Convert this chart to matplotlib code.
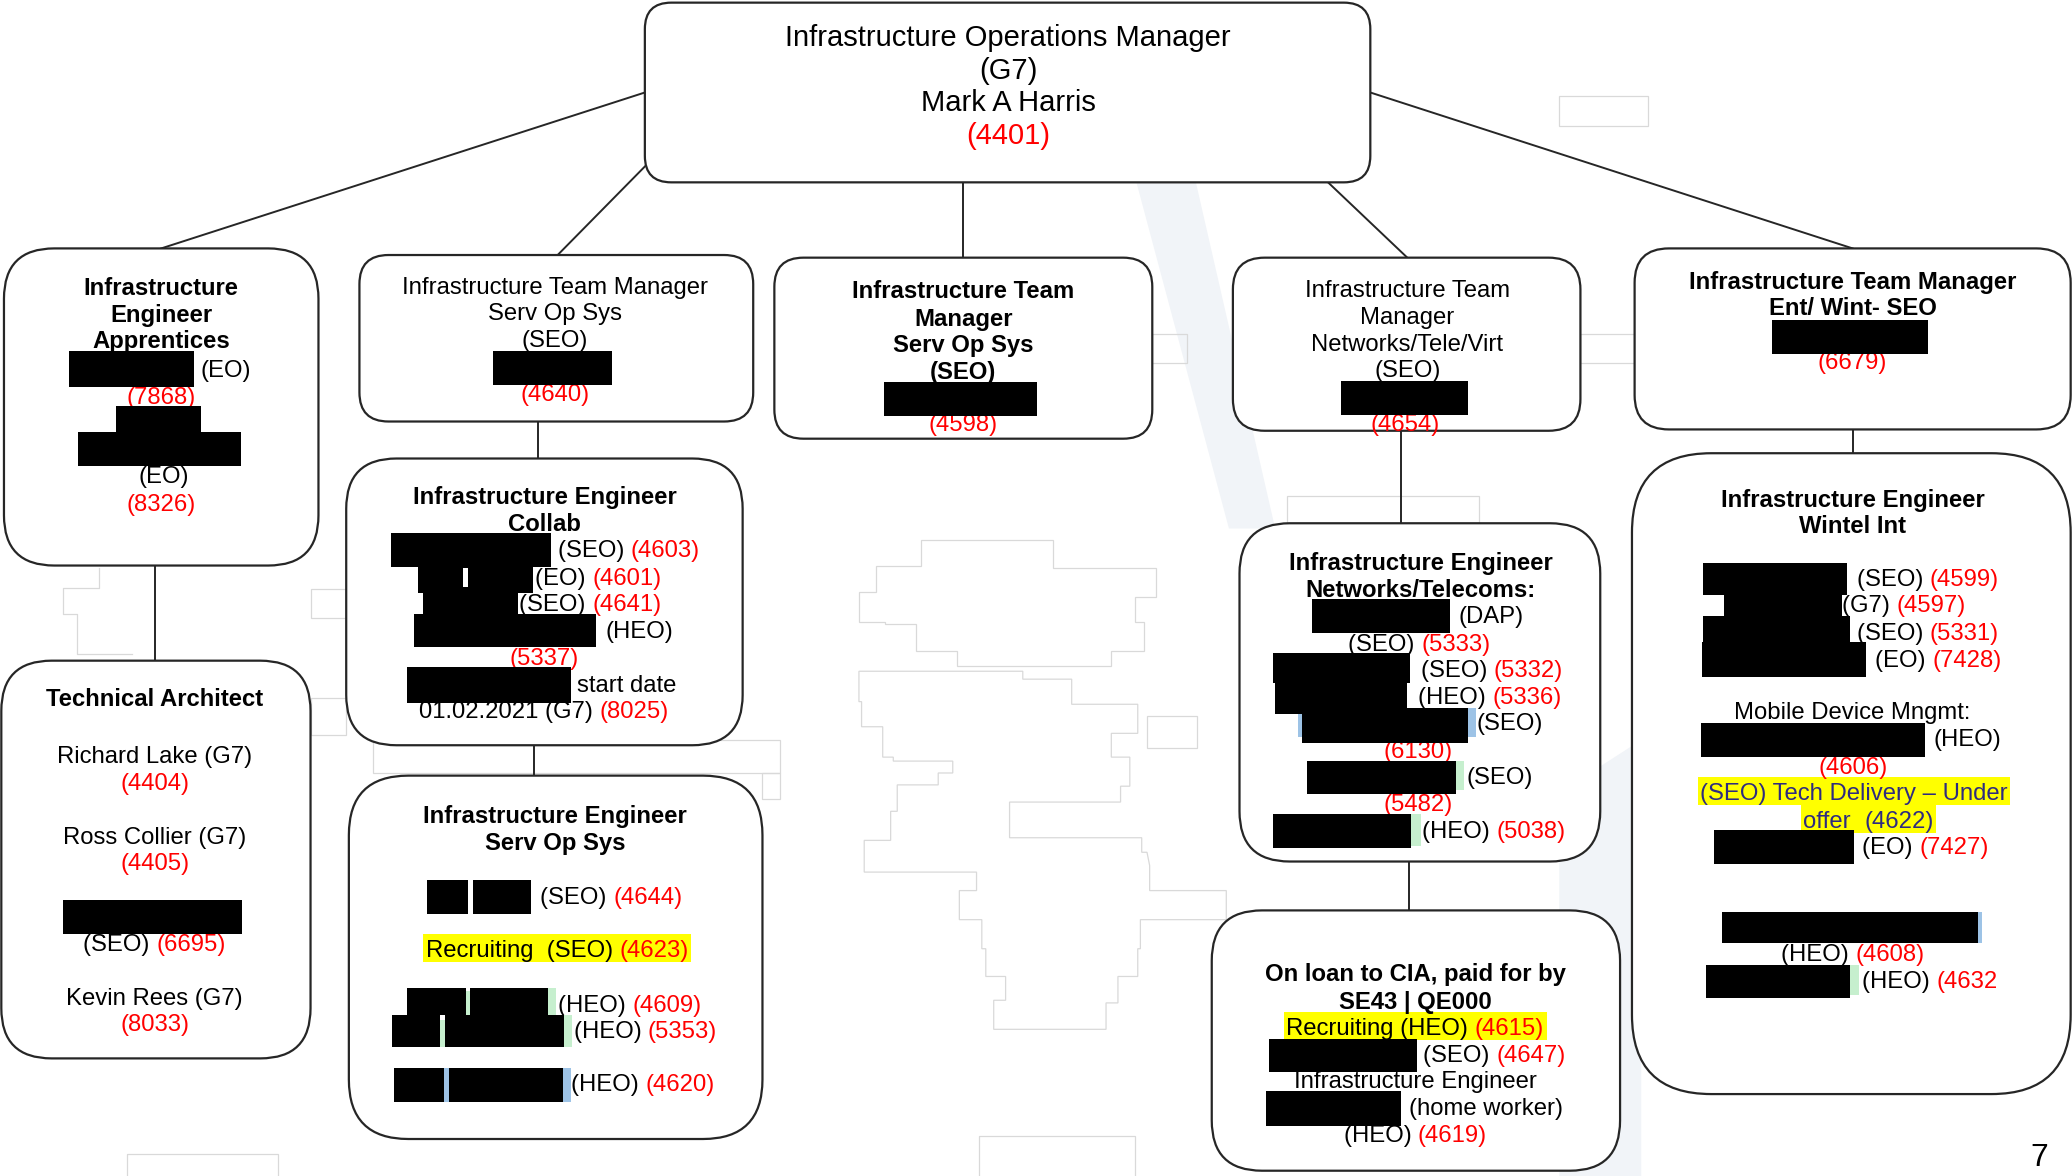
import re

import matplotlib
matplotlib.use("Agg")
import matplotlib.pyplot as plt
from matplotlib.patches import FancyBboxPatch, Rectangle, Polygon

# working units are the pixels of the 1568x890 preview of the org chart
W, H = 1568, 890
PT = 2072 / 1568 * 0.72          # points per working unit at dpi 100
FONT = "Liberation Sans"
BODY = 17.2
BIG = 21
RED = "#ff0000"
NAVY = "#2e2b80"
EDGE = "#262626"
GHOST = "#d9d9d9"
POST = re.compile(r"(\(\d{4}\)?)")

# ---- box texts ----------------------------------------------------------
TOP_ROWS = ["Infrastructure Operations Manager", "(G7)", "Mark A Harris", "(4401)"]
APPRENTICE_ROWS = ["Infrastructure", "Engineer", "Apprentices", "(EO)", "(7868)", "(EO)", "(8326)"]
SOS_MANAGER_ROWS = ["Infrastructure Team Manager", "Serv Op Sys", "(SEO)", "(4640)"]
SOS_LEAD_ROWS = ["Infrastructure Team", "Manager", "Serv Op Sys", "(SEO)", "(4598)"]
NET_MANAGER_ROWS = ["Infrastructure Team", "Manager", "Networks/Tele/Virt", "(SEO)", "(4654)"]
ENT_MANAGER_ROWS = ["Infrastructure Team Manager", "Ent/ Wint- SEO", "(6679)"]
COLLAB_ROWS = ["Infrastructure Engineer", "Collab", "(SEO) (4603)", "(EO) (4601)", "(SEO) (4641)",
               "(HEO)", "(5337)", "start date", "01.02.2021 (G7) (8025)"]
ARCHITECT_ROWS = ["Technical Architect", "Richard Lake (G7)", "(4404)", "Ross Collier (G7)", "(4405)",
                  "(SEO) (6695)", "Kevin Rees (G7)", "(8033)"]
SOS_ENGINEER_ROWS = ["Infrastructure Engineer", "Serv Op Sys", "(SEO) (4644)", "Recruiting  (SEO) (4623)",
                     "(HEO) (4609)", "(HEO) (5353)", "(HEO) (4620)"]
NET_ENGINEER_ROWS = ["Infrastructure Engineer", "Networks/Telecoms:", "(DAP)", "(SEO) (5333)", "(SEO) (5332)",
                     "(HEO) (5336)", "(SEO)", "(6130)", "(SEO)", "(5482)", "(HEO) (5038)"]
CIA_ROWS = ["On loan to CIA, paid for by", "SE43 | QE000", "Recruiting (HEO) (4615)", "(SEO) (4647)",
            "Infrastructure Engineer", "(home worker)", "(HEO) (4619)"]
WINTEL_ROWS = ["Infrastructure Engineer", "Wintel Int", "(SEO) (4599)", "(G7) (4597)", "(SEO) (5331)",
               "(EO) (7428)", "Mobile Device Mngmt:", "(HEO)", "(4606)", "(SEO) Tech Delivery \u2013 Under",
               "offer  (4622)", "(EO) (7427)", "(HEO) (4608)", "(HEO) (4632"]
PAGE_NUMBER = "7"

# ---- layout -------------------------------------------------------------
BOXES = [
    dict(rows=TOP_ROWS, rect=(488, 2, 1037, 138), r=20, size=BIG, bold=0,
         pos=[(27, "c", 763), (52, "c", 763), (76, "c", 763), (101, "c", 763)]),
    dict(rows=APPRENTICE_ROWS, rect=(3, 188, 241, 428), r=38, size=BODY, bold=3,
         pos=[(217, "c", 122), (237, "c", 122), (257, "c", 122), (279, "l", 152),
              (299, "c", 122), (359, "c", 124), (380, "c", 122)],
         bars=[(52, 266, 147, 293), (88, 307, 152, 328), (59, 327, 182, 353)]),
    dict(rows=SOS_MANAGER_ROWS, rect=(272, 193, 570, 319), r=22, size=BODY, bold=0,
         pos=[(216, "c", 420), (236, "c", 420), (256, "c", 420), (297, "c", 420)],
         bars=[(373, 266, 463, 291)]),
    dict(rows=SOS_LEAD_ROWS, rect=(586, 195, 872, 332), r=22, size=BODY, bold=4,
         pos=[(219, "c", 729), (240, "c", 729), (260, "c", 729), (280, "c", 729), (320, "c", 729)],
         bars=[(669, 289, 785, 315)]),
    dict(rows=NET_MANAGER_ROWS, rect=(933, 195, 1196, 326), r=24, size=BODY, bold=0,
         pos=[(218, "c", 1065), (239, "c", 1065), (259, "c", 1065), (279, "c", 1065), (320, "c", 1063)],
         bars=[(1015, 288, 1111, 314)]),
    dict(rows=ENT_MANAGER_ROWS, rect=(1237, 188, 1567, 325), r=26, size=BODY, bold=2,
         pos=[(212, "c", 1402), (232, "c", 1402), (273, "c", 1402)],
         bars=[(1341, 242, 1459, 268)]),
    dict(rows=COLLAB_ROWS, rect=(262, 347, 562, 564), r=38, size=BODY, bold=2,
         pos=[(375, "c", 412), (395, "c", 412), (415, "l", 422), (436, "l", 405), (456, "l", 393),
              (476, "l", 458), (497, "c", 412), (517, "l", 437), (537, "l", 317)],
         bars=[(296, 403, 417, 429), (316, 429, 403, 449), (320, 449, 392, 465),
               (313, 465, 451, 490), (308, 505, 432, 532)],
         notches=[(350, 430, 354, 444)]),
    dict(rows=ARCHITECT_ROWS, rect=(1, 500, 235, 801), r=38, size=BODY, bold=1,
         pos=[(528, "c", 117), (571, "c", 117), (591, "c", 117), (632, "c", 117), (652, "c", 117),
              (713, "c", 117), (754, "c", 117), (774, "c", 117)],
         bars=[(48, 681, 183, 707)]),
    dict(rows=SOS_ENGINEER_ROWS, rect=(264, 587, 577, 862), r=45, size=BODY, bold=2,
         pos=[(616, "c", 420), (637, "c", 420), (678, "l", 409), (718, "l", 322),
              (759, "l", 422), (779, "l", 434), (819, "l", 432)],
         highlight={3: None},
         bars=[(323, 666, 354, 692), (358, 666, 402, 692), (308, 748, 353, 768), (356, 748, 415, 768),
               (297, 768, 333, 792), (337, 768, 427, 792), (298, 808, 336, 834), (340, 808, 426, 834)],
         green=[(353, 750, 356, 768), (415, 748, 421, 768), (333, 772, 337, 792), (427, 768, 433, 792)],
         blue=[(336, 808, 340, 834), (426, 808, 432, 834)]),
    dict(rows=NET_ENGINEER_ROWS, rect=(938, 396, 1211, 652), r=38, size=BODY, bold=2,
         pos=[(425, "c", 1075), (445, "c", 1075), (465, "l", 1104), (486, "c", 1074), (506, "l", 1075),
              (526, "l", 1073), (546, "l", 1117), (567, "c", 1073), (587, "l", 1110), (607, "c", 1073),
              (628, "l", 1076)],
         bars=[(993, 453, 1097, 479), (963, 494, 1067, 517), (965, 517, 1065, 540),
               (985, 536, 1111, 562), (989, 576, 1102, 601), (963, 616, 1068, 642)],
         green=[(1102, 576, 1108, 598), (1068, 616, 1075, 640)],
         blue=[(982, 538, 986, 558), (1111, 536, 1117, 558)]),
    dict(rows=CIA_ROWS, rect=(917, 689, 1226, 886), r=38, size=BODY, bold=2,
         pos=[(736, "c", 1071), (757, "c", 1071), (777, "c", 1071), (797, "l", 1077),
              (817, "c", 1071), (837, "l", 1066), (858, "c", 1071)],
         highlight={2: None},
         bars=[(960, 786, 1072, 811), (958, 826, 1060, 852)]),
    dict(rows=WINTEL_ROWS, rect=(1235, 343, 1567, 828), r=60, size=BODY, bold=2,
         pos=[(377, "c", 1402), (397, "c", 1402), (437, "l", 1405), (457, "l", 1394), (478, "l", 1405),
              (498, "l", 1419), (538, "c", 1402), (558, "l", 1463), (579, "c", 1402), (599, "c", 1403),
              (620, "c", 1414), (640, "l", 1409), (721, "c", 1402), (741, "l", 1409)],
         highlight={9: NAVY, 10: NAVY},
         bars=[(1289, 426, 1398, 450), (1305, 450, 1394, 466), (1289, 466, 1400, 486),
               (1288, 486, 1412, 512), (1287, 547, 1457, 573), (1297, 628, 1403, 654),
               (1303, 690, 1497, 714), (1291, 730, 1400, 755)],
         green=[(1400, 730, 1407, 753)],
         blue=[(1497, 690, 1500, 714)]),
]

CONNECTORS = [(488, 70, 122, 188), (488, 126, 422, 193), (729, 138, 729, 195), (1005, 138, 1065, 195),
              (1037, 70, 1402, 188), (407, 319, 407, 347), (404, 564, 404, 587), (117, 428, 117, 500),
              (1060, 326, 1060, 396), (1066, 652, 1066, 689), (1402, 325, 1402, 343)]

GHOST_RECTS = [(1180, 73, 1247, 95), (872, 253, 898, 275), (1196, 253, 1237, 275), (974, 375, 1119, 396),
               (868, 542, 906, 566), (741, 860, 859, 892), (96, 873, 210, 892), (282, 560, 590, 585),
               (235, 446, 262, 468), (235, 528, 262, 556), (577, 585, 590, 605)]
GHOST_LINES = [[(75, 430), (75, 445), (48, 445), (48, 465), (58, 465), (58, 495), (100, 495)]]
GHOST_STAIRS = [
    [(697, 409), (797, 409), (797, 430), (875, 430), (875, 452), (859, 452), (859, 471), (866, 471),
     (866, 493), (841, 493), (841, 504), (724, 504), (724, 493), (693, 493), (693, 472), (670, 472),
     (670, 471), (650, 471), (650, 448), (663, 448), (663, 428), (697, 428)],
    [(650, 508), (774, 508), (774, 514), (811, 514), (811, 533), (861, 533), (861, 555), (841, 555),
     (841, 573), (855, 573), (855, 595), (848, 595), (848, 607), (764, 607), (764, 634), (864, 634),
     (864, 645), (868, 645), (870, 655), (870, 674), (928, 674), (928, 696), (863, 696), (863, 718),
     (861, 718), (861, 739), (846, 739), (846, 759), (837, 759), (837, 779), (752, 779), (752, 757),
     (761, 757), (761, 739), (746, 739), (746, 718), (743, 718), (743, 696), (726, 696), (726, 674),
     (739, 674), (739, 660), (654, 660), (654, 636), (674, 636), (674, 614), (679, 614), (679, 594),
     (710, 594), (710, 585), (721, 585), (721, 576), (676, 576), (676, 573), (668, 573), (668, 550),
     (652, 550), (652, 531), (650, 531)],
]
WASH = [[(860, 138), (905, 138), (965, 400), (930, 400)],
        [(1180, 600), (1242, 560), (1242, 890), (1180, 890)]]


def text_width(ax, renderer, s, size, weight):
    t = ax.text(0, 0, s, fontsize=size, fontweight=weight, family=FONT)
    w = t.get_window_extent(renderer=renderer).width
    t.remove()
    return w * W / 2072


def draw_row(ax, renderer, text, y, mode, x, size, weight, hl, hl_color):
    pieces = [p for p in POST.split(text) if p]
    bar = text_width(ax, renderer, "||", size, weight)
    widths = [text_width(ax, renderer, "|" + p + "|", size, weight) - bar for p in pieces]
    total = sum(widths)
    x0 = x - total / 2 if mode == "c" else x
    em = size / PT
    if hl:
        ax.add_patch(Rectangle((x0 - 2, y - 0.6 * em), total + 4, 1.17 * em,
                               facecolor="#ffff00", edgecolor="none", zorder=2.5))
    cx = x0
    for p, w in zip(pieces, widths):
        color = hl_color or (RED if POST.fullmatch(p) else "black")
        ax.text(cx, y + 0.36 * em, p, fontsize=size, fontweight=weight, family=FONT,
                color=color, ha="left", va="baseline", zorder=3)
        cx += w


def main():
    fig = plt.figure(figsize=(20.72, 11.76), dpi=100)
    ax = fig.add_axes([0, 0, 1, 1])
    ax.set_xlim(0, W)
    ax.set_ylim(H, 0)
    ax.axis("off")
    renderer = fig.canvas.get_renderer()

    for poly in WASH:
        ax.add_patch(Polygon(poly, closed=True, facecolor="#f1f4f8", edgecolor="none", zorder=0))
    for x0, y0, x1, y1 in GHOST_RECTS:
        ax.add_patch(Rectangle((x0, y0), x1 - x0, y1 - y0, fill=False, edgecolor=GHOST, lw=0.9, zorder=0.5))
    for line in GHOST_LINES:
        xs, ys = zip(*line)
        ax.plot(xs, ys, color=GHOST, lw=0.9, zorder=0.5)
    for poly in GHOST_STAIRS:
        ax.add_patch(Polygon(poly, closed=True, fill=False, edgecolor=GHOST, lw=0.9, zorder=0.5))

    for x0, y0, x1, y1 in CONNECTORS:
        ax.plot([x0, x1], [y0, y1], color=EDGE, lw=1.4, zorder=1)

    for box in BOXES:
        x0, y0, x1, y1 = box["rect"]
        ax.add_patch(FancyBboxPatch((x0, y0), x1 - x0, y1 - y0,
                                    boxstyle=f"round,pad=0,rounding_size={box['r']}",
                                    facecolor="white", edgecolor=EDGE, lw=1.6, zorder=2))
        highlight = box.get("highlight", {})
        for i, (text, (y, mode, x)) in enumerate(zip(box["rows"], box["pos"])):
            weight = "bold" if i < box["bold"] else "normal"
            draw_row(ax, renderer, text, y, mode, x, box["size"], weight,
                     i in highlight, highlight.get(i))
        for key, color in (("green", "#c6efce"), ("blue", "#9dc3e6")):
            for bx0, by0, bx1, by1 in box.get(key, []):
                ax.add_patch(Rectangle((bx0, by0), bx1 - bx0, by1 - by0,
                                       facecolor=color, edgecolor="none", zorder=3.5))
        for bx0, by0, bx1, by1 in box.get("bars", []):
            ax.add_patch(Rectangle((bx0, by0), bx1 - bx0, by1 - by0,
                                   facecolor="black", edgecolor="none", zorder=4))
        for bx0, by0, bx1, by1 in box.get("notches", []):
            ax.add_patch(Rectangle((bx0, by0), bx1 - bx0, by1 - by0,
                                   facecolor="white", edgecolor="none", zorder=4.5))

    ax.text(1543, 876, PAGE_NUMBER, fontsize=23, family=FONT, ha="center", va="center")

    fig.savefig("out.png", dpi=100)


if __name__ == "__main__":
    main()
